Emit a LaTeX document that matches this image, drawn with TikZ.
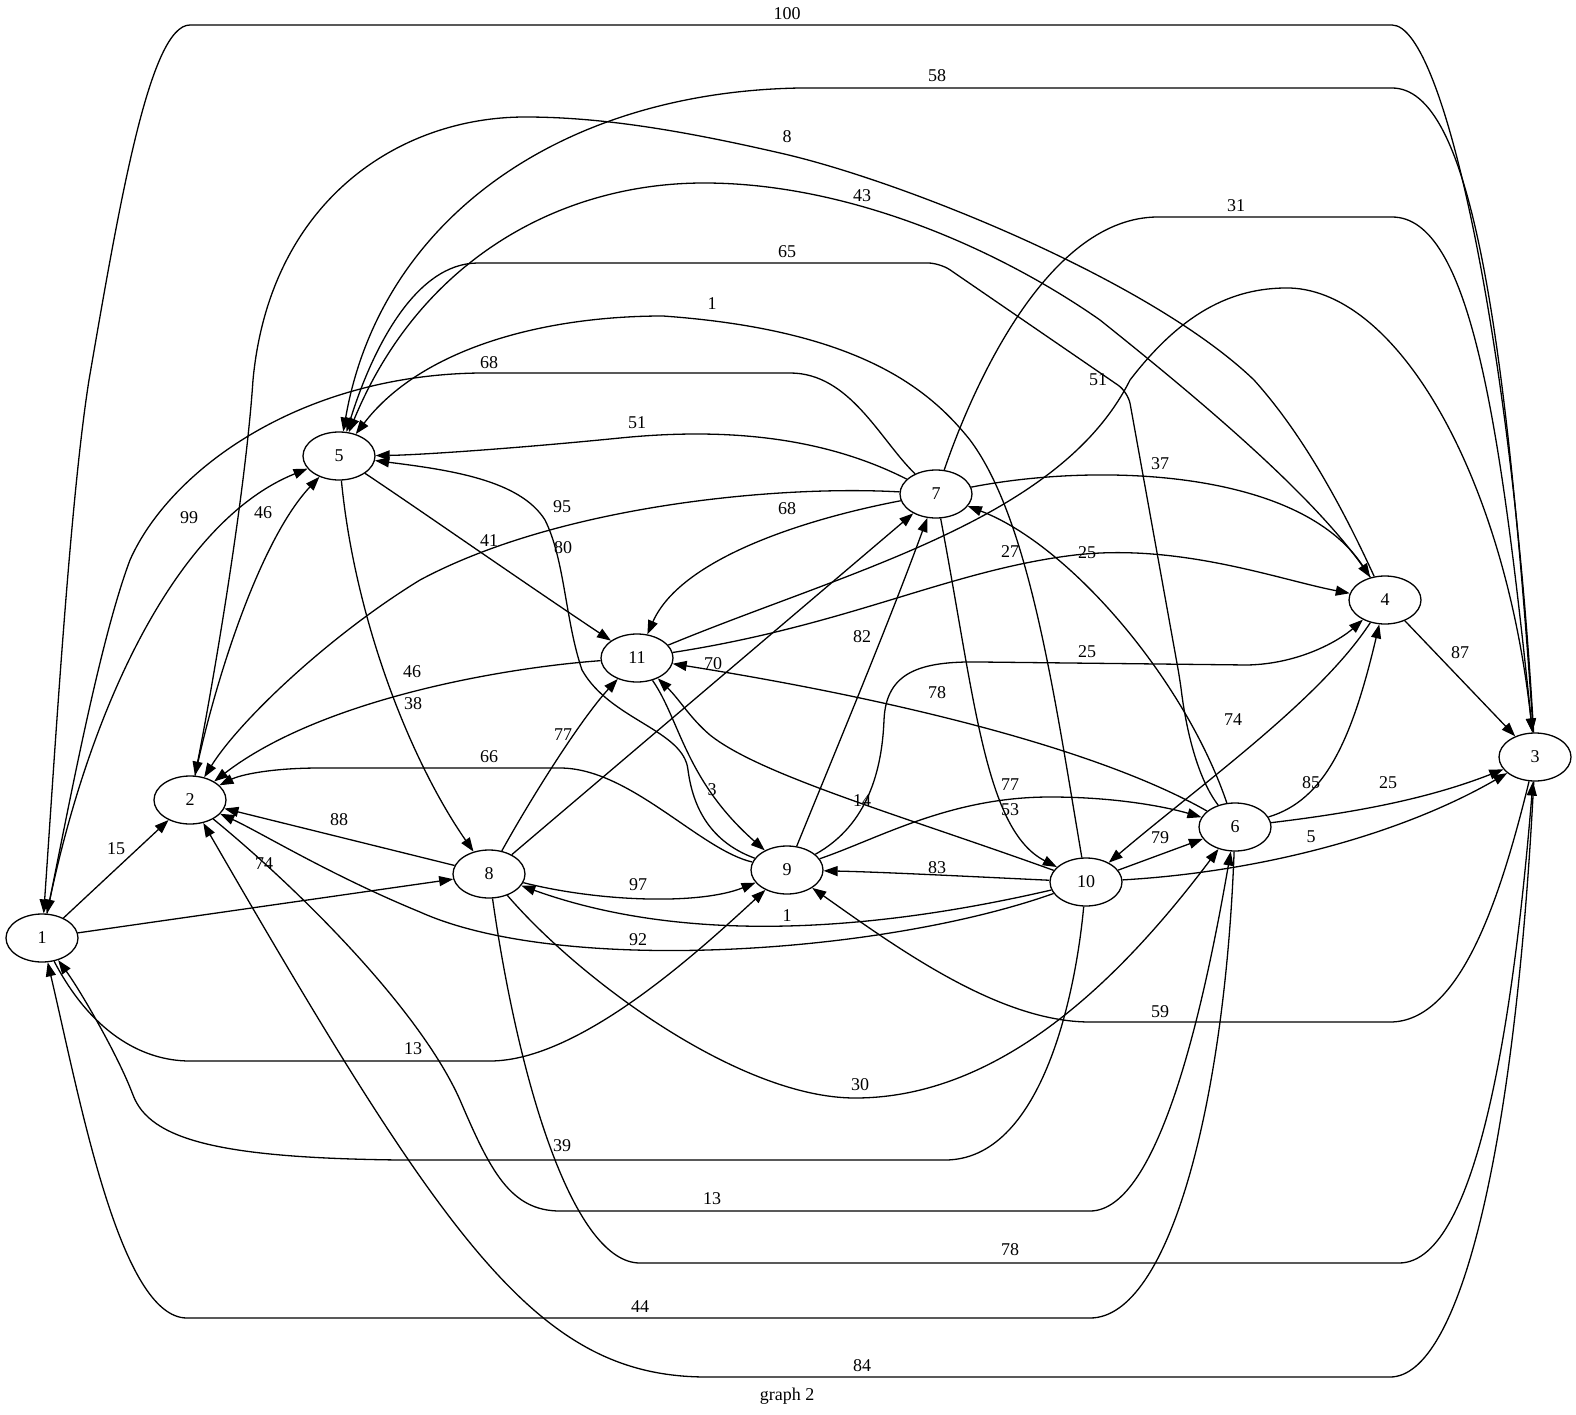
\documentclass[tikz,border=0pt]{standalone}
\usepackage{fontspec}
\setmainfont{Liberation Serif}
\usetikzlibrary{arrows.meta,shapes.geometric}
\begin{document}
\begin{tikzpicture}[x=1pt,y=-1pt,
    vertex/.style={draw,ellipse,line width=1.3pt,minimum width=72pt,minimum height=48pt,inner sep=0pt,font=\fontsize{18}{21}\selectfont},
    link/.style={draw,line width=1.3pt,-{Triangle[length=14pt,width=10pt]}},
    wlabel/.style={inner sep=0pt,font=\fontsize{18}{21}\selectfont}]

    \path[fill=white] (0,0) rectangle (1576,1415);
    \useasboundingbox (0,0) rectangle (1576,1415);

    % Define vertices
    \node[vertex] (n1) at (42,938) {1};
    \node[vertex] (n2) at (190,800) {2};
    \node[vertex] (n3) at (1535,757) {3};
    \node[vertex] (n4) at (1385,600) {4};
    \node[vertex] (n5) at (339,456) {5};
    \node[vertex] (n6) at (1235,827) {6};
    \node[vertex] (n7) at (936,494) {7};
    \node[vertex] (n8) at (489,874) {8};
    \node[vertex] (n9) at (787,870) {9};
    \node[vertex] (n10) at (1086,882) {10};
    \node[vertex] (n11) at (637,658) {11};

    % Edges leaving 1
    \draw[link] (n1) -- (n2) node[wlabel] (l1) at (116,849) {15};
    \draw[link] (n1) -- (n8) node[wlabel] (l2) at (264,864) {74};
    \draw[link] (n1) .. controls (90,700) and (180,520) .. (n5) node[wlabel] (l3) at (189,518) {99};
    \draw[link] (n1) .. controls (90,1030) and (140,1061) .. (190,1061) -- (490,1061) .. controls (580,1061) and (700,950) .. (n9) node[wlabel] (l4) at (413,1049) {13};

    % Edges into 1
    \draw[link] (n3) .. controls (1512,350) and (1445,25) .. (1392,25) -- (190,25) .. controls (150,25) and (120,200) .. (89,380) .. controls (70,500) and (55,750) .. (n1) node[wlabel] (l5) at (787,14) {100};
    \draw[link] (n7) .. controls (880,440) and (850,373) .. (790,373) -- (480,373) .. controls (300,375) and (170,470) .. (130,560) .. controls (100,640) and (70,800) .. (n1) node[wlabel] (l6) at (489,363) {68};
    \draw[link] (n10) .. controls (1075,1000) and (1040,1160) .. (945,1160) -- (400,1160) .. controls (220,1158) and (150,1140) .. (133,1095) .. controls (118,1055) and (80,990) .. (n1) node[wlabel] (l7) at (562,1146) {39};
    \draw[link] (n6) .. controls (1225,1100) and (1170,1318) .. (1090,1318) -- (187,1318) .. controls (120,1318) and (80,1100) .. (n1) node[wlabel] (l8) at (640,1307) {44};

    % Edges at 2
    \draw[link] (n2) .. controls (215,680) and (260,540) .. (n5) node[wlabel] (l9) at (263,513) {46};
    \draw[link] (n4) .. controls (1330,480) and (1290,420) .. (1254,380) .. controls (1150,280) and (900,180) .. (780,153) .. controls (680,130) and (600,117) .. (525,117) .. controls (400,117) and (270,200) .. (253,380) .. controls (245,500) and (210,700) .. (n2) node[wlabel] (l10) at (787,137) {8};
    \draw[link] (n7) .. controls (780,485) and (560,505) .. (420,580) .. controls (330,635) and (240,720) .. (n2) node[wlabel] (l11) at (562,507) {95};
    \draw[link] (n11) .. controls (500,668) and (320,700) .. (n2) node[wlabel] (l12) at (412,672) {46};
    \draw[link] (n9) .. controls (700,850) and (630,768) .. (560,768) -- (320,768) .. controls (270,768) and (240,775) .. (n2) node[wlabel] (l13) at (489,757) {66};
    \draw[link] (n8) -- (n2) node[wlabel] (l14) at (339,820) {88};
    \draw[link] (n10) .. controls (880,955) and (560,975) .. (420,912) .. controls (330,875) and (260,832) .. (n2) node[wlabel] (l15) at (638,940) {92};
    \draw[link] (n3) .. controls (1515,1150) and (1460,1377) .. (1390,1377) -- (707,1377) .. controls (540,1377) and (450,1250) .. (n2) node[wlabel] (l16) at (862,1366) {84};
    \draw[link] (n2) .. controls (300,890) and (420,1010) .. (460,1100) .. controls (490,1170) and (510,1211) .. (560,1211) -- (1090,1211) .. controls (1160,1211) and (1205,1000) .. (n6) node[wlabel] (l17) at (712,1199) {13};

    % Edges into 5
    \draw[link] (n3) .. controls (1505,320) and (1470,88) .. (1392,88) -- (800,88) .. controls (560,92) and (380,220) .. (n5) node[wlabel] (l18) at (937,76) {58};
    \draw[link] (n4) .. controls (1320,500) and (1200,400) .. (1100,320) .. controls (1000,250) and (850,183) .. (704,183) .. controls (560,183) and (420,260) .. (n5) node[wlabel] (l19) at (862,196) {43};
    \draw[link,rounded corners=12pt] (n6) .. controls (1195,775) and (1185,720) .. (1180,680) -- (1128,392) -- (940,263) -- (490,263) .. controls (415,263) and (372,350) .. (n5) node[wlabel] (l20) at (787,252) {65};
    \draw[link] (n10) .. controls (1055,700) and (1030,520) .. (970,440) .. controls (930,390) and (860,330) .. (663,316) .. controls (540,316) and (420,350) .. (n5) node[wlabel] (l21) at (712,304) {1};
    \draw[link] (n7) .. controls (820,435) and (720,428) .. (620,438) .. controls (520,448) and (420,455) .. (n5) node[wlabel] (l22) at (637,423) {51};
    \draw[link] (n9) .. controls (705,840) and (692,800) .. (688,770) .. controls (684,730) and (610,720) .. (582,670) .. controls (565,620) and (565,560) .. (545,520) .. controls (520,480) and (450,470) .. (n5) node[wlabel] (l23) at (563,548) {80};

    % Edges leaving 5
    \draw[link] (n5) .. controls (420,510) and (520,580) .. (n11) node[wlabel] (l24) at (489,541) {41};
    \draw[link] (n5) .. controls (355,620) and (410,760) .. (n8) node[wlabel] (l25) at (413,704) {38};

    % Edges into 3 and 4
    \draw[link] (n7) .. controls (975,380) and (1050,217) .. (1158,217) -- (1392,217) .. controls (1470,217) and (1500,420) .. (n3) node[wlabel] (l26) at (1236,206) {31};
    \draw[link] (n11) .. controls (850,570) and (1060,520) .. (1130,380) .. controls (1180,315) and (1230,287) .. (1290,288) .. controls (1400,292) and (1505,480) .. (n3) node[wlabel] (l27) at (1098,380) {51};
    \draw[link] (n7) .. controls (1100,462) and (1300,470) .. (n4) node[wlabel] (l28) at (1160,464) {37};
    \draw[link] (n11) .. controls (850,625) and (950,570) .. (1075,555) .. controls (1180,543) and (1280,580) .. (n4) node[wlabel] (l29) at (1087,553) {25};
    \draw[link] (n9) .. controls (868,825) and (882,770) .. (884,720) .. controls (886,672) and (920,661) .. (980,662) -- (1247,665) .. controls (1300,664) and (1340,640) .. (n4) node[wlabel] (l30) at (1087,652) {25};
    \draw[link] (n6) .. controls (1325,800) and (1352,740) .. (n4) node[wlabel] (l31) at (1311,783) {85};
    \draw[link] (n4) .. controls (1320,700) and (1200,785) .. (n10) node[wlabel] (l32) at (1233,720) {74};
    \draw[link] (n4) -- (n3) node[wlabel] (l33) at (1460,653) {87};
    \draw[link] (n6) .. controls (1360,812) and (1430,798) .. (n3) node[wlabel] (l34) at (1388,783) {25};
    \draw[link] (n10) .. controls (1260,872) and (1400,835) .. (n3) node[wlabel] (l35) at (1311,837) {5};

    % Edges at 7 and 11
    \draw[link] (n7) .. controls (800,520) and (680,560) .. (n11) node[wlabel] (l36) at (787,509) {68};
    \draw[link] (n8) -- (n7) node[wlabel] (l37) at (713,664) {70};
    \draw[link] (n9) .. controls (840,740) and (890,620) .. (n7) node[wlabel] (l38) at (862,637) {82};
    \draw[link] (n6) .. controls (1185,680) and (1070,545) .. (n7) node[wlabel] (l39) at (1010,552) {27};
    \draw[link] (n8) .. controls (530,800) and (580,720) .. (n11) node[wlabel] (l40) at (563,735) {77};
    \draw[link] (n6) .. controls (1100,750) and (900,700) .. (n11) node[wlabel] (l41) at (937,693) {78};
    \draw[link] (n10) .. controls (900,815) and (760,775) .. (710,735) .. controls (690,718) and (680,700) .. (n11) node[wlabel] (l42) at (862,801) {14};
    \draw[link] (n11) .. controls (680,720) and (685,780) .. (n9) node[wlabel] (l43) at (712,790) {3};

    % Edges at 8, 9, 10, 6
    \draw[link] (n8) .. controls (600,902) and (700,905) .. (n9) node[wlabel] (l44) at (638,885) {97};
    \draw[link] (n10) .. controls (960,876) and (880,872) .. (n9) node[wlabel] (l45) at (937,868) {83};
    \draw[link] (n10) .. controls (900,925) and (700,950) .. (n8) node[wlabel] (l46) at (787,916) {1};
    \draw[link] (n9) .. controls (880,838) and (950,797) .. (1050,797) .. controls (1120,797) and (1170,808) .. (n6) node[wlabel] (l47) at (1010,785) {77};
    \draw[link] (n7) .. controls (975,700) and (985,830) .. (n10) node[wlabel] (l48) at (1010,810) {53};
    \draw[link] (n10) -- (n6) node[wlabel] (l49) at (1160,838) {79};
    \draw[link] (n8) .. controls (580,980) and (740,1098) .. (855,1098) .. controls (1000,1098) and (1120,980) .. (n6) node[wlabel] (l50) at (860,1085) {30};
    \draw[link] (n3) .. controls (1500,900) and (1460,1022) .. (1390,1022) -- (1090,1022) .. controls (1000,1022) and (900,950) .. (n9) node[wlabel] (l51) at (1160,1012) {59};
    \draw[link] (n8) .. controls (520,1090) and (575,1263) .. (640,1263) -- (1399,1263) .. controls (1480,1263) and (1515,1000) .. (n3) node[wlabel] (l52) at (1010,1250) {78};

    % Caption
    \node[wlabel] (title) at (787,1396) {graph 2};

\end{tikzpicture}
\end{document}
